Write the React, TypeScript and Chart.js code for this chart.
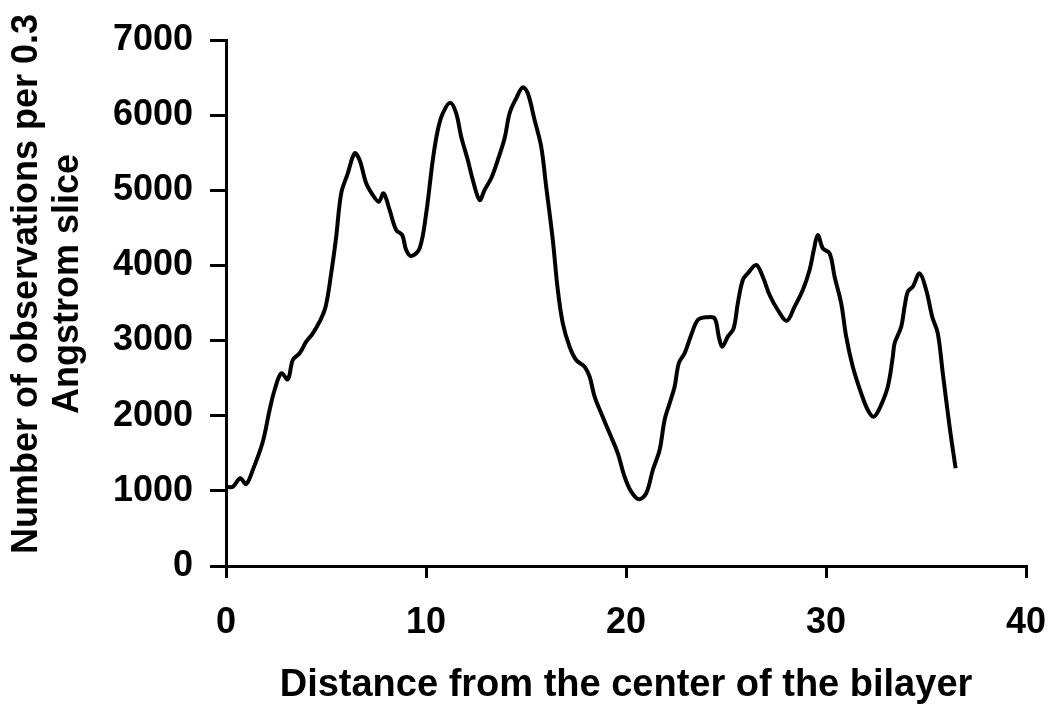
import { useEffect, useRef } from "react";
import { Chart, registerables } from "chart.js";

Chart.register(...registerables);

const distance = [
  0.0, 0.34, 0.71, 1.01, 1.34, 1.84, 2.18, 2.43, 2.76, 3.09, 3.34, 3.68, 4.01, 4.34, 4.68, 4.98,
  5.26, 5.51, 5.76, 6.09, 6.43, 6.68, 7.01, 7.34, 7.64, 7.88, 8.18, 8.51, 8.81, 9.01, 9.26, 9.68,
  10.01, 10.34, 10.59, 10.84, 11.21, 11.51, 11.76, 12.09, 12.34, 12.68, 12.93, 13.26, 13.59, 13.93,
  14.18, 14.51, 14.84, 15.09, 15.43, 15.76, 16.01, 16.34, 16.59, 16.84, 17.18, 17.51, 17.93, 18.18,
  18.43, 18.76, 19.18, 19.59, 19.93, 20.26, 20.64, 21.01, 21.34, 21.68, 21.93, 22.18, 22.43, 22.64,
  22.93, 23.26, 23.59, 24.01, 24.43, 24.64, 24.81, 25.09, 25.38, 25.59, 25.84, 26.09, 26.51, 26.84,
  27.18, 27.59, 28.04, 28.43, 28.84, 29.18, 29.39, 29.59, 29.84, 30.18, 30.43, 30.76, 31.01, 31.34,
  31.76, 32.09, 32.38, 32.68, 33.09, 33.34, 33.43, 33.76, 33.93, 34.09, 34.34, 34.68, 35.01, 35.31,
  35.59, 35.84, 36.18, 36.48,
];

const observations = [
  1055, 1055, 1167, 1091, 1278, 1654, 2076, 2342, 2564, 2485, 2741, 2831, 2985, 3097, 3251, 3451,
  3895, 4382, 4960, 5226, 5492, 5403, 5093, 4937, 4848, 4960, 4738, 4471, 4405, 4205, 4125, 4228,
  4694, 5403, 5802, 6025, 6166, 6025, 5713, 5403, 5137, 4871, 5004, 5160, 5403, 5692,
  6025, 6224, 6371, 6291, 5935, 5580, 5048, 4338, 3673, 3230, 2918, 2741, 2652, 2519,
  2253, 2032, 1766, 1500, 1188, 989, 888, 967, 1278, 1544, 1943, 2165, 2386, 2698,
  2831, 3074, 3274, 3310, 3296, 3052, 2918, 3052, 3163, 3496, 3806, 3895, 4006, 3850,
  3606, 3407, 3264, 3451, 3673, 3939, 4205, 4405, 4228, 4161, 3850, 3496, 3052, 2652,
  2298, 2076, 1987, 2099, 2386, 2785, 2964, 3185, 3451, 3650, 3717, 3895, 3673, 3318,
  3097, 2564, 1854, 1300,
];

const xTickValues = [0, 10, 20, 30, 40];
const yTickValues = [0, 1000, 2000, 3000, 4000, 5000, 6000, 7000];
const xTitle = "Distance from the center of the bilayer";
const yTitleLines = ["Number of observations per 0.3", "Angstrom slice"];

const FONT_FAMILY = '"Liberation Sans", Arial, Helvetica, sans-serif';

const yTitlePlugin = {
  id: "yTitleTwoLines",
  afterDraw(chart: any) {
    const { ctx, chartArea } = chart;
    ctx.save();
    ctx.font = `bold 36px ${FONT_FAMILY}`;
    ctx.fillStyle = "#000";
    ctx.textAlign = "center";
    ctx.textBaseline = "alphabetic";
    const cy = (chartArea.top + chartArea.bottom) / 2 - 19;
    yTitleLines.forEach((line, i) => {
      ctx.save();
      ctx.translate(37 + i * 41, cy);
      ctx.rotate(-Math.PI / 2);
      ctx.fillText(line, 0, 0);
      ctx.restore();
    });
    ctx.restore();
  },
};

export default function App() {
  const canvasRef = useRef<HTMLCanvasElement | null>(null);

  useEffect(() => {
    if (!canvasRef.current) return;
    const points = distance.map((x, i) => ({ x, y: observations[i] }));
    const tickFont = { family: FONT_FAMILY, size: 36, weight: "bold" as const };

    const chart = new Chart(canvasRef.current, {
      type: "line",
      data: {
        datasets: [
          {
            data: points,
            borderColor: "#000",
            borderWidth: 4,
            pointRadius: 0,
            tension: 0.35,
            fill: false,
          },
        ],
      },
      options: {
        animation: false,
        responsive: true,
        maintainAspectRatio: false,
        layout: { padding: { top: 40, right: 25, bottom: 0, left: 0 } },
        plugins: {
          legend: { display: false },
          tooltip: { enabled: false },
        },
        scales: {
          x: {
            type: "linear",
            min: 0,
            max: 40,
            afterBuildTicks: (scale: any) => {
              scale.ticks = xTickValues.map((v) => ({ value: v }));
            },
            afterFit: (scale: any) => {
              scale.height = 138;
              scale.paddingLeft = 0;
              scale.paddingRight = 0;
            },
            grid: {
              drawOnChartArea: false,
              drawTicks: true,
              tickLength: 12,
              color: "#000",
              lineWidth: 3,
            },
            border: { color: "#000", width: 3 },
            ticks: {
              color: "#000",
              font: tickFont,
              padding: 23,
              maxRotation: 0,
              autoSkip: false,
            },
            title: {
              display: true,
              text: xTitle,
              color: "#000",
              font: { family: FONT_FAMILY, size: 38, weight: "bold" },
              padding: { top: 0, bottom: -4 },
            },
          },
          y: {
            type: "linear",
            min: 0,
            max: 7000,
            afterBuildTicks: (scale: any) => {
              scale.ticks = yTickValues.map((v) => ({ value: v }));
            },
            afterFit: (scale: any) => {
              scale.width = 226;
            },
            grid: {
              drawOnChartArea: false,
              drawTicks: true,
              tickLength: 16,
              color: "#000",
              lineWidth: 3,
            },
            border: { color: "#000", width: 3 },
            ticks: {
              color: "#000",
              font: tickFont,
              padding: 17,
              autoSkip: false,
              callback: (v: any) => String(v),
            },
          },
        },
      },
      plugins: [yTitlePlugin],
    });

    return () => chart.destroy();
  }, []);

  return (
    <div style={{ position: "absolute", left: 0, top: 0, width: 1051, height: 704, background: "#fff" }}>
      <canvas ref={canvasRef} />
    </div>
  );
}
